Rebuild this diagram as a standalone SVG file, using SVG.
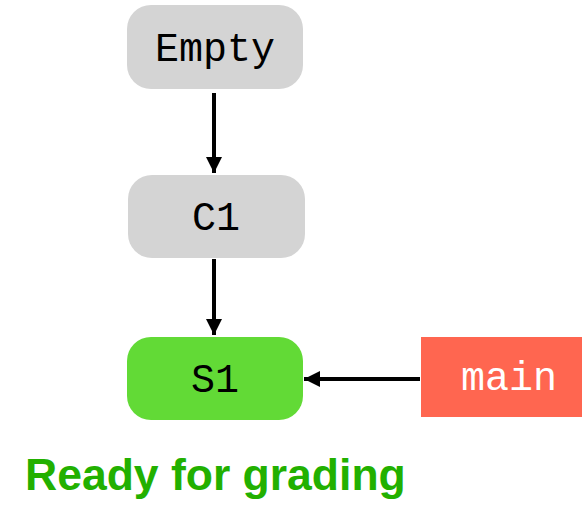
<svg xmlns="http://www.w3.org/2000/svg" width="582" height="505" viewBox="0 0 582 505">
<defs>
<style>
.node{fill:#d4d4d4}
.lbl{font-family:"Liberation Mono","Courier New",monospace;font-size:40px;fill:#000;text-anchor:middle}
.edge{stroke:#000;stroke-width:4;fill:none}
</style>
<marker id="ah" viewBox="0 0 10 10" refX="10" refY="5" markerWidth="4" markerHeight="4" orient="auto" markerUnits="strokeWidth">
<path d="M0,0 L10,5 L0,10 z" fill="#000"/>
</marker>
</defs>
<rect width="582" height="505" fill="#fff"/>
<g id="connectors">
<line class="edge" x1="214" y1="93" x2="214" y2="173" marker-end="url(#ah)"/>
<line class="edge" x1="214" y1="259" x2="214" y2="335" marker-end="url(#ah)"/>
<line class="edge" x1="420" y1="379" x2="304" y2="379" marker-end="url(#ah)"/>
</g>
<g id="node-empty">
<rect class="node" x="127" y="5" width="176" height="84" rx="24"/>
<text class="lbl" x="215" y="61">Empty</text>
</g>
<g id="node-c1">
<rect class="node" x="128" y="175" width="177" height="83" rx="24"/>
<text class="lbl" x="216" y="230">C1</text>
</g>
<g id="node-s1">
<rect x="127" y="337" width="176" height="83" rx="24" fill="#62da36"/>
<text class="lbl" x="215" y="392">S1</text>
</g>
<g id="node-main">
<rect x="421" y="337" width="161" height="80" fill="#ff6650"/>
<text class="lbl" x="509" y="390" style="fill:#fff">main</text>
</g>
<g id="caption">
<text x="25" y="490" font-family="Liberation Sans, Arial, sans-serif" font-weight="bold" font-size="44.5" fill="#22b000">Ready for grading</text>
</g>
</svg>
